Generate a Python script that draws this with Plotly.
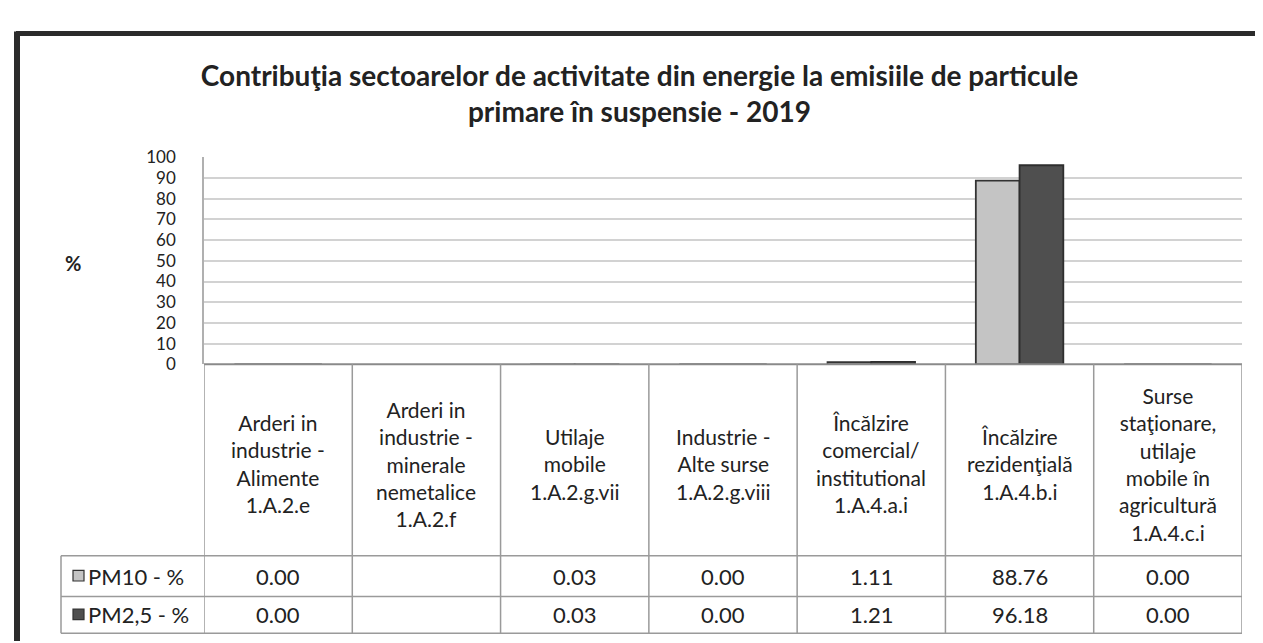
import plotly.graph_objects as go

# ---------------- data ----------------
categories = [
    "Arderi in<br>industrie -<br>Alimente<br>1.A.2.e",
    "Arderi in<br>industrie -<br>minerale<br>nemetalice<br>1.A.2.f",
    "Utilaje<br>mobile<br>1.A.2.g.vii",
    "Industrie -<br>Alte surse<br>1.A.2.g.viii",
    "Încălzire<br>comercial/<br>institutional<br>1.A.4.a.i",
    "Încălzire<br>rezidenţială<br>1.A.4.b.i",
    "Surse<br>staţionare,<br>utilaje<br>mobile în<br>agricultură<br>1.A.4.c.i",
]
pm10 = [0.00, None, 0.03, 0.00, 1.11, 88.76, 0.00]
pm25 = [0.00, None, 0.03, 0.00, 1.21, 96.18, 0.00]
series_names = ["PM10 - %", "PM2,5 - %"]
y_ticks = [0, 10, 20, 30, 40, 50, 60, 70, 80, 90, 100]
title_text = ("Contribuţia sectoarelor de activitate din energie la emisiile de particule"
              "<br>primare în suspensie - 2019")

# ---------------- layout helpers (pixels -> paper) ----------------
W, H = 1263, 643
def px(x):
    return x / W
def py(y):
    return 1 - y / H

FONT = "Lato"
TXT = "#222222"
C10 = "#c4c4c4"
C25 = "#4f4f4f"
EDGE = "#333333"

n = len(categories)
xs = list(range(n))

fig = go.Figure()
fig.add_trace(go.Bar(x=xs, y=pm10, name=series_names[0], marker=dict(color=C10, line=dict(color=EDGE, width=1.8))))
fig.add_trace(go.Bar(x=xs, y=pm25, name=series_names[1], marker=dict(color=C25, line=dict(color="#2e2e2e", width=1.8))))

plot_l, plot_r, plot_t, plot_b = 196, 1234, 143, 357
row1_b, row2_b, row3_b = 555, 597, 635
leg_l = 53

fig.update_layout(
    width=W, height=H,
    margin=dict(l=0, r=0, t=0, b=0),
    paper_bgcolor="white", plot_bgcolor="white",
    showlegend=False,
    barmode="group", bargap=0.41, bargroupgap=0,
    title=dict(text=title_text, x=0.5, xanchor="center", y=py(78), yanchor="middle",
               font=dict(family=FONT, size=28, color=TXT, weight="bold")),
    xaxis=dict(domain=[px(plot_l), px(plot_r)], range=[-0.5, n - 0.5],
               showticklabels=False, showgrid=False, zeroline=False, showline=False, fixedrange=True),
    yaxis=dict(domain=[py(plot_b), py(plot_t)], range=[0, 100], tickvals=y_ticks,
               showgrid=True, gridcolor="#d2d2d2", gridwidth=2, zeroline=False,
               showline=True, linecolor="#b0b0b0", linewidth=1.5,
               tickfont=dict(family=FONT, size=17, color=TXT), ticks="", ticklabelstandoff=23,
               fixedrange=True),
)

shapes = []
line_c = "#9a9a9a"
# outer chart border (scan frame)
shapes.append(dict(type="line", xref="paper", yref="paper", x0=px(8), x1=1.0, y0=py(15), y1=py(15),
                   line=dict(color="#2b2b2b", width=5)))
shapes.append(dict(type="line", xref="paper", yref="paper", x0=px(9), x1=px(9), y0=py(13), y1=0,
                   line=dict(color="#2b2b2b", width=6)))
# axis baseline
shapes.append(dict(type="line", xref="paper", yref="paper", x0=px(plot_l), x1=px(plot_r), y0=py(plot_b), y1=py(plot_b),
                   line=dict(color="#8a8a8a", width=2)))
# table vertical lines at category boundaries
for i in range(n + 1):
    shapes.append(dict(type="line", xref="x", yref="paper", x0=i - 0.5, x1=i - 0.5, y0=py(plot_b), y1=py(row3_b),
                       line=dict(color=line_c, width=1.5)))
# table horizontal lines
for yy in (row1_b, row2_b, row3_b):
    shapes.append(dict(type="line", xref="paper", yref="paper", x0=px(leg_l), x1=px(plot_r), y0=py(yy), y1=py(yy),
                       line=dict(color=line_c, width=1.5)))
# legend column left edge
shapes.append(dict(type="line", xref="paper", yref="paper", x0=px(leg_l), x1=px(leg_l), y0=py(row1_b), y1=py(row3_b),
                   line=dict(color=line_c, width=1.5)))
# legend keys
key_colors = [C10, C25]
row_centers = [(row1_b + row2_b) / 2, (row2_b + row3_b) / 2]
for c, rc in zip(key_colors, row_centers):
    shapes.append(dict(type="rect", xref="paper", yref="paper", x0=px(65), x1=px(76), y0=py(rc + 5), y1=py(rc - 6),
                       fillcolor=c, line=dict(color=EDGE, width=1.2)))

annotations = []
# y-axis title
annotations.append(dict(text="%", xref="paper", yref="paper", x=px(55), y=py(252), showarrow=False,
                        font=dict(family=FONT, size=20, color=TXT, weight="bold")))
# category labels
for i, cat in enumerate(categories):
    annotations.append(dict(text=cat, xref="x", yref="paper", x=i, y=py(460), yanchor="middle",
                            showarrow=False, align="center",
                            font=dict(family=FONT, size=21, color=TXT)))
# series names in table
for name, rc in zip(series_names, row_centers):
    annotations.append(dict(text=name, xref="paper", yref="paper", x=px(78), y=py(rc), xanchor="left",
                            yanchor="middle", showarrow=False, font=dict(family=FONT, size=22, color=TXT)))
# values
for vals, rc in zip([pm10, pm25], row_centers):
    for i, v in enumerate(vals):
        if v is None:
            continue
        annotations.append(dict(text=f"{v:.2f}", xref="x", yref="paper", x=i, y=py(rc), yanchor="middle",
                                showarrow=False, font=dict(family=FONT, size=22, color=TXT)))

fig.update_layout(shapes=shapes, annotations=annotations)
fig.write_html("out.html")
